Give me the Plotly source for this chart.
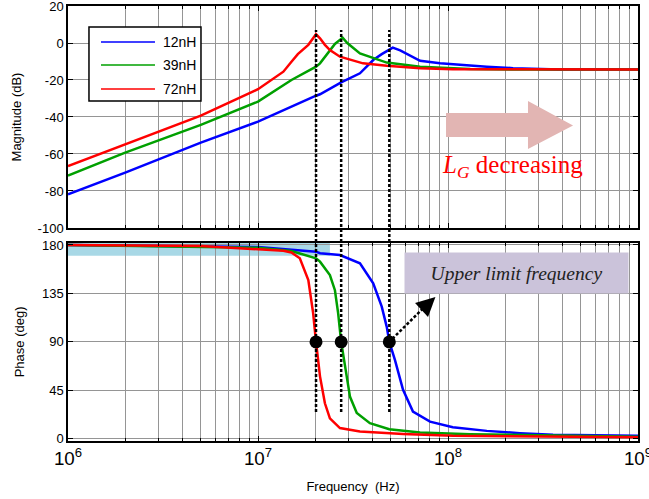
import plotly.graph_objects as go

labels = ["12nH", "39nH", "72nH"]
colors = ["#0000ff", "#00a000", "#ff0000"]

# Magnitude (dB) vs frequency (Hz)
mag_f_12 = [1e6, 2e6, 5e6, 1e7, 2.02e7, 2.12e7, 2.74e7, 3.44e7, 4.04e7, 4.48e7, 5.12e7, 5.6e7, 7.13e7, 9.08e7, 1.6e8, 2.2e8, 3.88e8, 1e9]
mag_db_12 = [-81.8, -70.1, -53.9, -42.5, -28.5, -27.7, -21.3, -16.4, -9.2, -6.0, -2.5, -4.0, -9.6, -11.0, -12.8, -13.6, -14.3, -14.3]
mag_f_39 = [1e6, 2e6, 5e6, 1e7, 1.5e7, 2.02e7, 2.12e7, 2.39e7, 2.54e7, 2.79e7, 2.95e7, 3.44e7, 4.76e7, 7.13e7, 1.31e8, 2.2e8, 1e9]
mag_db_39 = [-71.7, -59.3, -44.3, -31.7, -20.0, -12.8, -11.0, -3.8, -0.5, 2.9, 0.0, -5.6, -10.6, -12.8, -14.0, -14.3, -14.3]
mag_f_72 = [1e6, 2e6, 5e6, 1e7, 1.11e7, 1.36e7, 1.5e7, 1.62e7, 1.84e7, 1.95e7, 2.02e7, 2.12e7, 2.25e7, 2.39e7, 2.70e7, 3.57e7, 4.76e7, 7.13e7, 1.06e8, 1e9]
mag_db_72 = [-66.5, -54.6, -39.3, -25.0, -21.8, -15.5, -10.1, -6.0, -1.0, 2.5, 4.7, 2.5, -1.0, -3.8, -7.4, -11.0, -12.3, -13.6, -14.2, -14.3]

# Phase (deg) vs frequency (Hz)
ph_f_12 = [1e6, 1e7, 2.02e7, 2.12e7, 2.70e7, 3.44e7, 4.04e7, 4.48e7, 4.76e7, 4.91e7, 5.26e7, 5.80e7, 6.54e7, 8.04e7, 1.06e8, 1.6e8, 2.39e8, 3.57e8, 1e9]
ph_deg_12 = [180, 178, 173.8, 172.3, 170.7, 163, 144.5, 122.7, 104, 90, 73, 45.5, 25.3, 16, 10.8, 7.4, 5.3, 3.7, 2.8]
ph_f_39 = [1e6, 1e7, 1.5e7, 2.02e7, 2.12e7, 2.39e7, 2.54e7, 2.64e7, 2.74e7, 2.87e7, 3.05e7, 3.31e7, 3.88e7, 4.91e7, 7.13e7, 1.31e8, 3.57e8, 1e9]
ph_deg_39 = [180, 177.5, 174.4, 167.6, 164.5, 152, 138, 117, 90, 67, 39, 24, 14.5, 9, 5.9, 4.3, 2.8, 1.9]
ph_f_72 = [1e6, 5e6, 1e7, 1.36e7, 1.5e7, 1.66e7, 1.84e7, 1.95e7, 2.02e7, 2.12e7, 2.25e7, 2.39e7, 2.70e7, 3.44e7, 5.8e7, 1.06e8, 1e9]
ph_deg_72 = [180, 179, 176, 174.7, 173, 167.6, 147.5, 117, 90, 58, 33, 19, 10, 6.8, 4.6, 2.8, 1.5]

# -90 degree crossing points (upper limit frequencies)
cross_f = [2.02e7, 2.74e7, 4.91e7]
cross_deg = [90, 90, 90]

mag_y_ticks = [20, 0, -20, -40, -60, -80, -100]
mag_y_text = ["20", "0", "-20", "-40", "-60", "-80", "-100"]
ph_y_ticks = [0, 45, 90, 135, 180]

mag_sets = [(mag_f_12, mag_db_12), (mag_f_39, mag_db_39), (mag_f_72, mag_db_72)]
ph_sets = [(ph_f_12, ph_deg_12), (ph_f_39, ph_deg_39), (ph_f_72, ph_deg_72)]

fig = go.Figure()

for (f, v), c, lab in zip(mag_sets, colors, labels):
    fig.add_trace(go.Scatter(x=f, y=v, mode="lines", line=dict(color=c, width=2.5), name=lab,
                             showlegend=False, xaxis="x", yaxis="y"))
for (f, v), c, lab in zip(ph_sets, colors, labels):
    fig.add_trace(go.Scatter(x=f, y=v, mode="lines", line=dict(color=c, width=2.5), name=lab,
                             showlegend=False, xaxis="x2", yaxis="y2"))

fig.add_trace(go.Scatter(x=cross_f, y=cross_deg, mode="markers",
                         marker=dict(color="black", size=13), showlegend=False,
                         xaxis="x2", yaxis="y2"))

grid = "#959595"
font = "Liberation Sans, Arial, sans-serif"
serif = "Liberation Serif, Times New Roman, serif"

xcommon = dict(type="log", range=[6, 9], dtick=1, showgrid=True, gridcolor=grid, gridwidth=1,
               minor=dict(dtick="D1", showgrid=True, gridcolor=grid, gridwidth=1,
                          ticks="inside", ticklen=3, tickcolor="black"),
               ticks="inside", ticklen=5, tickcolor="black", showline=True, linecolor="black",
               linewidth=1.5, mirror="allticks", zeroline=False, automargin=False,
               ticklabeloverflow="allow")

fig.update_layout(
    width=649, height=499,
    margin=dict(l=68, r=11, t=6, b=58),
    paper_bgcolor="white", plot_bgcolor="white",
    font=dict(family=font, size=13, color="black"),
    showlegend=False,
    xaxis=dict(**xcommon, domain=[0, 1], showticklabels=False, anchor="y"),
    yaxis=dict(domain=[0.4897, 1], range=[-100, 20], tickvals=mag_y_ticks, ticktext=mag_y_text,
               showgrid=True, gridcolor=grid, ticks="inside", ticklen=5, tickcolor="black",
               showline=True, linecolor="black", linewidth=1.5, mirror="allticks", zeroline=False,
               tickfont=dict(size=13), automargin=False, ticklabeloverflow="allow",
               title=dict(text="Magnitude (dB)", font=dict(size=13), standoff=13), anchor="x"),
    xaxis2=dict(**xcommon, domain=[0, 1], showticklabels=True, exponentformat="power",
                tickfont=dict(size=15), anchor="y2",
                title=dict(text="Frequency  (Hz)", font=dict(size=13), standoff=14)),
    yaxis2=dict(domain=[0, 0.4556], range=[-2, 182], tickvals=ph_y_ticks,
                showgrid=True, gridcolor=grid, ticks="inside", ticklen=5, tickcolor="black",
                showline=True, linecolor="black", linewidth=1.5, mirror="allticks", zeroline=False,
                tickfont=dict(size=13), automargin=False, ticklabeloverflow="allow",
                title=dict(text="Phase (deg)", font=dict(size=13), standoff=14), anchor="x2"),
)

# legend box (drawn in the top panel's domain coordinates)
fig.add_shape(type="rect", xref="x domain", yref="y domain", x0=0.0368, x1=0.2333,
              y0=0.5721, y1=0.9054, fillcolor="white", line=dict(color="black", width=1.5),
              layer="above")
for lab, c, yy in zip(labels, colors, [0.8378, 0.7342, 0.6261]):
    fig.add_shape(type="line", xref="x domain", yref="y domain", x0=0.0579, x1=0.1526,
                  y0=yy, y1=yy, line=dict(color=c, width=1.5), layer="above")
    fig.add_annotation(xref="x domain", yref="y domain", x=0.1632, y=yy, text=lab,
                       showarrow=False, xanchor="left", yanchor="middle",
                       font=dict(size=14, color="black"))

# light blue band near 180 deg
fig.add_shape(type="rect", xref="x2", yref="y2", x0=1e6, x1=2.39e7, y0=170, y1=182,
              fillcolor="#a8d8e6", line=dict(width=0), layer="below")

# vertical dotted lines through both panels
for f in cross_f:
    fig.add_shape(type="line", xref="x", yref="paper", x0=f, x1=f, y0=0.0667, y1=0.9448,
                  line=dict(color="black", width=2.5, dash="3px,2px"), layer="above")

# big pink arrow
arrow_path = ("M 0.6632 0.5180 L 0.8070 0.5180 L 0.8070 0.5721 L 0.8860 0.4617 "
              "L 0.8070 0.3559 L 0.8070 0.4099 L 0.6632 0.4099 Z")
fig.add_shape(type="path", xref="x domain", yref="y domain", path=arrow_path,
              fillcolor="#e2b5b3", line=dict(width=0), layer="above")

fig.add_annotation(xref="x domain", yref="y domain", x=0.779, y=0.275,
                   xanchor="center", yanchor="middle",
                   text="<i>L</i><sub><i>G</i></sub> decreasing", showarrow=False,
                   font=dict(family=serif, size=25, color="#ff0000"))

# Upper limit frequency box
fig.add_annotation(xref="x2 domain", yref="y2 domain", x=0.7868, y=0.848,
                   xanchor="center", yanchor="middle",
                   text="<i>Upper limit frequency</i>", showarrow=False,
                   width=221, height=38, bgcolor="#cbc3da",
                   font=dict(family=serif, size=19.5, color="#222222"))

# dashed arrow from the blue crossing point
fig.add_shape(type="line", xref="x2", yref="y2", x0=5.1e7, y0=93, x1=7.41e7, y1=121.3,
              line=dict(color="black", width=2.5, dash="3px,2px"), layer="above")
fig.add_annotation(xref="x2", yref="y2", x=7.934, y=131.7, ax=-14, ay=13,
                   axref="pixel", ayref="pixel", text="", showarrow=True,
                   arrowhead=2, arrowsize=1.9, arrowwidth=2, arrowcolor="black")

fig.write_html("out.html", post_script="document.body.style.margin='0';",
               config={"displayModeBar": False})
